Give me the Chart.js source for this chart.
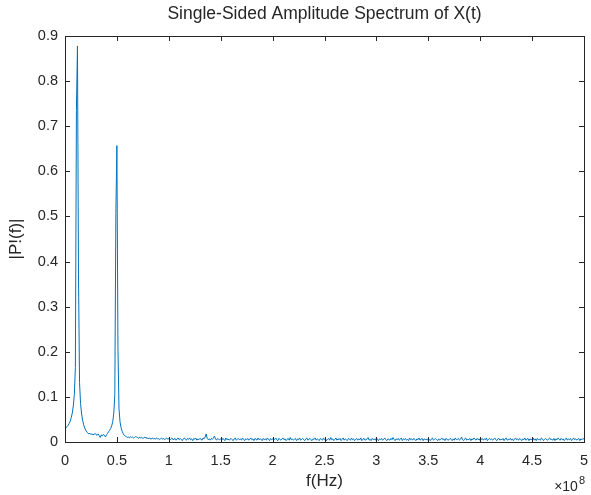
<!DOCTYPE html>
<html>
<head>
<meta charset="utf-8">
<script src="https://cdn.jsdelivr.net/npm/chart.js@4.4.1/dist/chart.umd.min.js"></script>
<style>
html,body{margin:0;padding:0;background:#fff;}
canvas{display:block;}
</style>
</head>
<body>
<canvas id="myChart" width="591" height="495"></canvas>
<script>
// one FFT bin every 1 MHz, from 0 to 500 MHz
const binWidth = 1e6
const amplitude = [
  0.030,0.032,0.034,0.037,0.041,0.046,0.054,0.064,0.080,0.105,
  0.165,0.735,0.878,0.372,0.132,0.085,0.062,0.048,0.038,0.031,
  0.026,0.022,0.020,0.018,0.019,0.017,0.018,0.016,0.017,0.019,
  0.016,0.015,0.018,0.014,0.010,0.016,0.013,0.017,0.015,0.011,
  0.016,0.019,0.023,0.026,0.030,0.036,0.045,0.064,0.105,0.507,
  0.657,0.211,0.075,0.045,0.032,0.024,0.019,0.015,0.013,0.012,
  0.010,0.011,0.009,0.012,0.010,0.011,0.009,0.010,0.012,0.011,
  0.010,0.008,0.011,0.009,0.010,0.008,0.009,0.011,0.008,0.010,
  0.007,0.009,0.008,0.006,0.009,0.007,0.008,0.006,0.009,0.007,
  0.008,0.005,0.007,0.009,0.006,0.008,0.005,0.007,0.009,0.006,
  0.008,0.004,0.007,0.009,0.005,0.006,0.008,0.004,0.007,0.009,
  0.005,0.008,0.006,0.003,0.007,0.009,0.006,0.004,0.008,0.006,
  0.009,0.005,0.007,0.003,0.008,0.006,0.009,0.004,0.007,0.005,
  0.008,0.006,0.004,0.009,0.007,0.011,0.018,0.008,0.005,0.007,
  0.004,0.008,0.006,0.009,0.013,0.007,0.004,0.008,0.006,0.005,
  0.007,0.004,0.008,0.006,0.003,0.009,0.005,0.007,0.004,0.006,
  0.008,0.005,0.003,0.007,0.009,0.004,0.006,0.008,0.005,0.007,
  0.004,0.009,0.006,0.003,0.007,0.005,0.008,0.004,0.006,0.009,
  0.005,0.007,0.003,0.008,0.006,0.004,0.009,0.005,0.007,0.006,
  0.003,0.008,0.005,0.007,0.004,0.009,0.006,0.003,0.008,0.005,
  0.007,0.004,0.006,0.009,0.005,0.003,0.008,0.006,0.004,0.007,
  0.009,0.005,0.007,0.003,0.006,0.008,0.004,0.010,0.005,0.007,
  0.004,0.006,0.008,0.003,0.007,0.005,0.009,0.004,0.006,0.008,
  0.005,0.003,0.007,0.009,0.004,0.006,0.008,0.005,0.003,0.007,
  0.006,0.009,0.004,0.007,0.005,0.003,0.008,0.006,0.004,0.009,
  0.005,0.007,0.003,0.006,0.008,0.004,0.010,0.005,0.007,0.003,
  0.006,0.009,0.004,0.007,0.005,0.008,0.003,0.006,0.009,0.004,
  0.007,0.005,0.003,0.008,0.006,0.004,0.009,0.005,0.007,0.003,
  0.006,0.008,0.004,0.007,0.005,0.009,0.003,0.006,0.008,0.004,
  0.005,0.007,0.010,0.004,0.006,0.003,0.008,0.005,0.007,0.004,
  0.009,0.006,0.003,0.007,0.005,0.008,0.004,0.006,0.009,0.005,
  0.003,0.007,0.006,0.004,0.008,0.005,0.010,0.006,0.003,0.007,
  0.005,0.008,0.004,0.006,0.009,0.003,0.007,0.005,0.008,0.004,
  0.006,0.003,0.009,0.005,0.007,0.004,0.008,0.006,0.003,0.007,
  0.005,0.009,0.004,0.006,0.008,0.003,0.007,0.005,0.006,0.004,
  0.008,0.005,0.003,0.007,0.009,0.004,0.006,0.008,0.005,0.003,
  0.007,0.004,0.006,0.009,0.005,0.007,0.003,0.008,0.006,0.004,
  0.005,0.008,0.006,0.003,0.007,0.004,0.009,0.005,0.006,0.008,
  0.004,0.006,0.011,0.005,0.003,0.007,0.009,0.004,0.006,0.005,
  0.008,0.003,0.007,0.005,0.009,0.006,0.004,0.008,0.005,0.007,
  0.003,0.006,0.008,0.004,0.007,0.005,0.009,0.003,0.006,0.008,
  0.005,0.007,0.004,0.006,0.009,0.005,0.003,0.007,0.008,0.004,
  0.006,0.005,0.008,0.003,0.007,0.009,0.004,0.006,0.005,0.008,
  0.004,0.007,0.003,0.006,0.009,0.005,0.007,0.004,0.008,0.006,
  0.003,0.007,0.005,0.009,0.004,0.006,0.008,0.003,0.007,0.005,
  0.006,0.009,0.004,0.007,0.003,0.008,0.005,0.006,0.004,0.009,
  0.007,0.003,0.006,0.008,0.005,0.004,0.007,0.009,0.005,0.006,
  0.004,0.008,0.003,0.007,0.005,0.009,0.006,0.004,0.008,0.005,
  0.007,0.003,0.006,0.009,0.004,0.007,0.005,0.008,0.003,0.006,
  0.009,0.005,0.007,0.004,0.006,0.008,0.003,0.007,0.005,0.008,
  0.006
]
const xTicks = [0, 0.5e8, 1e8, 1.5e8, 2e8, 2.5e8, 3e8, 3.5e8, 4e8, 4.5e8, 5e8]
const yTicks = [0, 0.1, 0.2, 0.3, 0.4, 0.5, 0.6, 0.7, 0.8, 0.9]
const xExponent = '8'

const points = amplitude.map((a, i) => ({x: i * binWidth, y: a}))
const ink = '#262626'
const fontFam = '"Liberation Sans", Arial, sans-serif'

// matlab style box with inward ticks on all four sides
const boxPlugin = {
  id: 'box',
  afterDatasetsDraw(chart) {
    const {ctx, chartArea: a, scales} = chart
    const x = scales.x, y = scales.y
    ctx.save()
    ctx.strokeStyle = ink
    ctx.lineWidth = 1
    ctx.strokeRect(Math.round(a.left) + 0.5, Math.round(a.top) + 0.5,
      Math.round(a.right - a.left), Math.round(a.bottom - a.top))
    ctx.beginPath()
    xTicks.forEach(v => {
      const px = Math.round(x.getPixelForValue(v)) + 0.5
      ctx.moveTo(px, a.bottom); ctx.lineTo(px, a.bottom - 5)
      ctx.moveTo(px, a.top); ctx.lineTo(px, a.top + 5)
    })
    yTicks.forEach(v => {
      const py = Math.round(y.getPixelForValue(v)) + 0.5
      ctx.moveTo(a.left, py); ctx.lineTo(a.left + 5, py)
      ctx.moveTo(a.right, py); ctx.lineTo(a.right - 5, py)
    })
    ctx.stroke()
    // x10^8 multiplier
    ctx.fillStyle = ink
    ctx.textBaseline = 'alphabetic'
    ctx.textAlign = 'right'
    ctx.font = '11px ' + fontFam
    ctx.fillText(xExponent, a.right + 1, 484)
    const expW = ctx.measureText(xExponent).width
    ctx.font = '14px ' + fontFam
    ctx.fillText('\u00d710', a.right - expW, 491)
    ctx.restore()
  }
}

const ctx = document.getElementById('myChart')
new Chart(ctx, {
  type: 'line',
  data: {
    datasets: [{
      data: points,
      borderColor: '#0072BD',
      borderWidth: 1,
      pointRadius: 0,
      tension: 0,
      fill: false
    }]
  },
  options: {
    responsive: false,
    animation: false,
    parsing: false,
    layout: {padding: {left: 0, right: 7, top: 0, bottom: 0}},
    plugins: {
      legend: {display: false},
      tooltip: {enabled: false},
      title: {
        display: true,
        fullSize: false,
        text: 'Single-Sided Amplitude Spectrum of X(t)',
        color: ink,
        font: {family: fontFam, size: 17.5, weight: 'normal', lineHeight: 1.2},
        padding: {top: 4, bottom: 11}
      }
    },
    scales: {
      x: {
        type: 'linear',
        min: 0,
        max: 5e8,
        grid: {display: false, drawTicks: false},
        border: {display: false},
        afterBuildTicks: s => { s.ticks = xTicks.map(v => ({value: v})) },
        afterFit: s => { s.height = 53; s.paddingLeft = 0; s.paddingRight = 0 },
        ticks: {
          color: ink,
          padding: 10,
          maxRotation: 0,
          font: {family: fontFam, size: 14.5},
          callback: v => String(+(v / 1e8).toFixed(1))
        },
        title: {
          display: true,
          text: 'f(Hz)',
          color: ink,
          font: {family: fontFam, size: 17},
          padding: {top: 0, bottom: 3}
        }
      },
      y: {
        min: 0,
        max: 0.9,
        grid: {display: false, drawTicks: false},
        border: {display: false},
        afterBuildTicks: s => { s.ticks = yTicks.map(v => ({value: v})) },
        afterFit: s => { s.width = 65; s.paddingTop = 0; s.paddingBottom = 0 },
        ticks: {
          color: ink,
          padding: 7,
          font: {family: fontFam, size: 14.5},
          callback: v => String(+v.toFixed(1))
        },
        title: {
          display: true,
          text: '|P!(f)|',
          color: ink,
          font: {family: fontFam, size: 17},
          padding: {top: 6, bottom: 0}
        }
      }
    }
  },
  plugins: [boxPlugin]
})
</script>
</body>
</html>
